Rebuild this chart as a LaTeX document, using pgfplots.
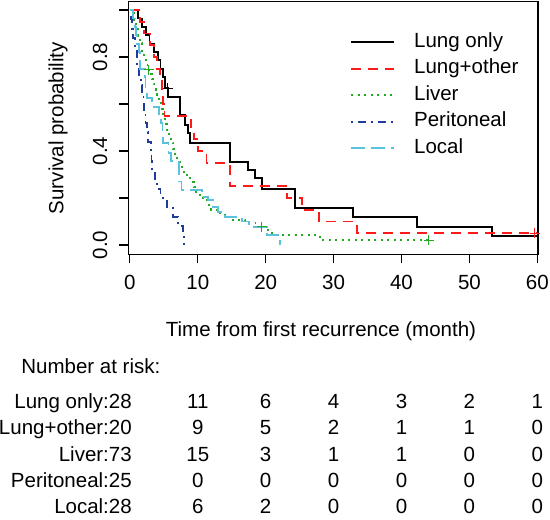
\documentclass[border=0pt]{standalone}
\usepackage{fontspec}
\setmainfont{Liberation Sans}
\usepackage{pgfplots}
\pgfplotsset{compat=1.18}
\definecolor{kmred}{HTML}{FF1A1A}
\definecolor{kmgreen}{HTML}{22AA22}
\definecolor{kmblue}{HTML}{1F3C99}
\definecolor{kmcyan}{HTML}{5BC2DE}
\begin{document}
\begin{tikzpicture}
\path[use as bounding box] (0,0) rectangle (550pt,520pt);
\begin{axis}[
  at={(128.5pt,265.6pt)}, anchor=south west,
  scale only axis, width=409.5pt, height=252.6pt,
  xmin=-0.2, xmax=60.1, ymin=-0.04, ymax=1.035,
  clip=false,
  font=\fontsize{20.5}{24}\selectfont,
  axis line style={line width=1.1pt},
  every tick/.style={black, line width=1.1pt},
  tick align=outside, major tick length=9pt,
  xtick pos=left, ytick pos=left,
  xtick={0,10,20,30,40,50,60}, xticklabels={0,10,20,30,40,50,60},
  ytick={0,0.2,0.4,0.6,0.8,1}, yticklabels={0.0,,0.4,,0.8,},
  xticklabel style={inner sep=0pt, yshift=-11.6pt},
  yticklabel style={rotate=90, anchor=south, inner sep=0pt, yshift=12pt},
  xlabel={Time from first recurrence (month)},
  xlabel style={at={(axis description cs:0.47,-0.325)}, anchor=base, inner sep=0pt},
  ylabel={Survival probability},
  ylabel style={at={(axis description cs:-0.172,0.5)}, anchor=center, inner sep=0pt},
  legend style={at={(rel axis cs:0.5410,0.880)}, anchor=north west, draw=none, fill=none,
    inner sep=0pt, row sep=6.5pt, nodes={inner sep=0pt, text height=15pt, text depth=5pt},
    /tikz/every odd column/.append style={column sep=19pt}},
  legend cell align=left,
  legend image code/.code={\draw[#1] (0pt,0pt) -- (43pt,0pt);},
]
% Lung only
\addplot[black, line width=1.8pt, const plot] coordinates {
(0,1.0) (1.2,0.964) (1.8,0.929) (2.4,0.893) (2.9,0.857) (3.5,0.821) (4.2,0.786)
(4.5,0.750) (4.9,0.714) (5.2,0.667) (5.65,0.631) (7.4,0.553) (8.1,0.510) (8.6,0.475)
(8.85,0.433) (14.75,0.354) (17.45,0.319) (18.4,0.285) (19.4,0.237) (24.3,0.156)
(32.9,0.118) (42.3,0.078) (53.3,0.039) (60,0.039)};
\addlegendentry{Lung only}
% Lung+other
\addplot[kmred, line width=1.8pt, const plot, dash pattern=on 10pt off 7pt] coordinates {
(0,1.0) (1.5,0.95) (2.1,0.90) (3.0,0.85) (3.5,0.80) (4.0,0.75) (4.4,0.70) (4.7,0.65)
(4.9,0.60) (5.1,0.55) (9.0,0.50) (9.5,0.45) (10.0,0.40) (11.3,0.35) (14.75,0.25)
(23.1,0.20) (25.3,0.15) (27.8,0.10) (33.5,0.05) (60,0.05)};
\addlegendentry{Lung+other}
% Liver
\addplot[kmgreen, line width=1.9pt, const plot, dash pattern=on 2pt off 4.5pt] coordinates {
(0,1) (0.3,0.986) (0.6,0.959) (0.9,0.932) (1.2,0.890) (1.5,0.858) (1.8,0.822)
(2.1,0.795) (2.4,0.768) (2.6,0.745) (3.0,0.728) (3.2,0.705) (3.5,0.685) (3.8,0.660)
(4.0,0.640) (4.3,0.610) (4.6,0.580) (4.9,0.550) (5.2,0.515) (5.5,0.490) (5.8,0.465)
(6.1,0.435) (6.4,0.410) (6.7,0.385) (7.0,0.360) (7.4,0.333) (7.9,0.310) (8.4,0.290)
(8.9,0.270) (9.4,0.248) (9.8,0.225) (10.3,0.205) (10.8,0.190) (11.4,0.170) (12.0,0.150)
(12.8,0.135) (14.0,0.120) (15.2,0.106) (17.0,0.092) (18.5,0.078) (20.0,0.064)
(20.9,0.050) (21.6,0.043) (28.0,0.021) (44.6,0.021)};
\addlegendentry{Liver}
% Peritoneal
\addplot[kmblue, line width=1.8pt, const plot, dash pattern=on 2pt off 5pt on 8pt off 5pt] coordinates {
(0,1) (0.2,0.96) (0.3,0.92) (0.45,0.88) (0.7,0.84) (1.0,0.80) (1.1,0.76) (1.4,0.72)
(1.6,0.68) (1.8,0.64) (2.0,0.60) (2.1,0.56) (2.3,0.52) (2.5,0.48) (2.7,0.44) (3.1,0.40)
(3.2,0.36) (3.3,0.32) (3.7,0.28) (4.0,0.24) (4.5,0.20) (5.5,0.16) (6.4,0.12) (7.1,0.08)
(7.8,0.04) (8.0,0.0)};
\addlegendentry{Peritoneal}
% Local
\addplot[kmcyan, line width=1.8pt, const plot, dash pattern=on 14pt off 6pt] coordinates {
(0,1) (0.5,0.964) (0.7,0.929) (0.9,0.893) (1.1,0.857) (1.3,0.821) (1.5,0.750)
(2.2,0.714) (2.3,0.661) (2.5,0.625) (3.3,0.589) (4.3,0.553) (4.6,0.518) (4.8,0.482)
(4.9,0.433) (5.7,0.390) (6.0,0.357) (7.2,0.270) (7.6,0.234) (10.6,0.205) (11.5,0.190)
(12.3,0.163) (13.0,0.140) (14.0,0.120) (16.5,0.100) (17.5,0.078) (20.2,0.043) (22.1,0.0)};
\addlegendentry{Local}
% censoring marks
\addplot[forget plot, only marks, mark=+, mark size=5pt, black, line width=1pt] coordinates {(5.6,0.667)};
\addplot[forget plot, only marks, mark=+, mark size=5pt, kmred, line width=1pt] coordinates {(59.6,0.05)};
\addplot[forget plot, only marks, mark=+, mark size=5pt, kmgreen, line width=1pt] coordinates {(2.8,0.745) (19.4,0.078) (44.0,0.021)};
% number at risk
\node[anchor=base west] at (axis cs:-16.5,-0.547) {Number at risk:};
\node[anchor=base east] at (axis cs:0.8,-0.695) {Lung only:28};
\node[anchor=base east] at (axis cs:0.8,-0.808) {Lung+other:20};
\node[anchor=base east] at (axis cs:0.8,-0.921) {Liver:73};
\node[anchor=base east] at (axis cs:0.8,-1.032) {Peritoneal:25};
\node[anchor=base east] at (axis cs:0.8,-1.142) {Local:28};
\node[anchor=base] at (axis cs:10,-0.695) {11};
\node[anchor=base] at (axis cs:20,-0.695) {6};
\node[anchor=base] at (axis cs:30,-0.695) {4};
\node[anchor=base] at (axis cs:40,-0.695) {3};
\node[anchor=base] at (axis cs:50,-0.695) {2};
\node[anchor=base] at (axis cs:60,-0.695) {1};
\node[anchor=base] at (axis cs:10,-0.808) {9};
\node[anchor=base] at (axis cs:20,-0.808) {5};
\node[anchor=base] at (axis cs:30,-0.808) {2};
\node[anchor=base] at (axis cs:40,-0.808) {1};
\node[anchor=base] at (axis cs:50,-0.808) {1};
\node[anchor=base] at (axis cs:60,-0.808) {0};
\node[anchor=base] at (axis cs:10,-0.921) {15};
\node[anchor=base] at (axis cs:20,-0.921) {3};
\node[anchor=base] at (axis cs:30,-0.921) {1};
\node[anchor=base] at (axis cs:40,-0.921) {1};
\node[anchor=base] at (axis cs:50,-0.921) {0};
\node[anchor=base] at (axis cs:60,-0.921) {0};
\node[anchor=base] at (axis cs:10,-1.032) {0};
\node[anchor=base] at (axis cs:20,-1.032) {0};
\node[anchor=base] at (axis cs:30,-1.032) {0};
\node[anchor=base] at (axis cs:40,-1.032) {0};
\node[anchor=base] at (axis cs:50,-1.032) {0};
\node[anchor=base] at (axis cs:60,-1.032) {0};
\node[anchor=base] at (axis cs:10,-1.142) {6};
\node[anchor=base] at (axis cs:20,-1.142) {2};
\node[anchor=base] at (axis cs:30,-1.142) {0};
\node[anchor=base] at (axis cs:40,-1.142) {0};
\node[anchor=base] at (axis cs:50,-1.142) {0};
\node[anchor=base] at (axis cs:60,-1.142) {0};
\end{axis}
\end{tikzpicture}
\end{document}
